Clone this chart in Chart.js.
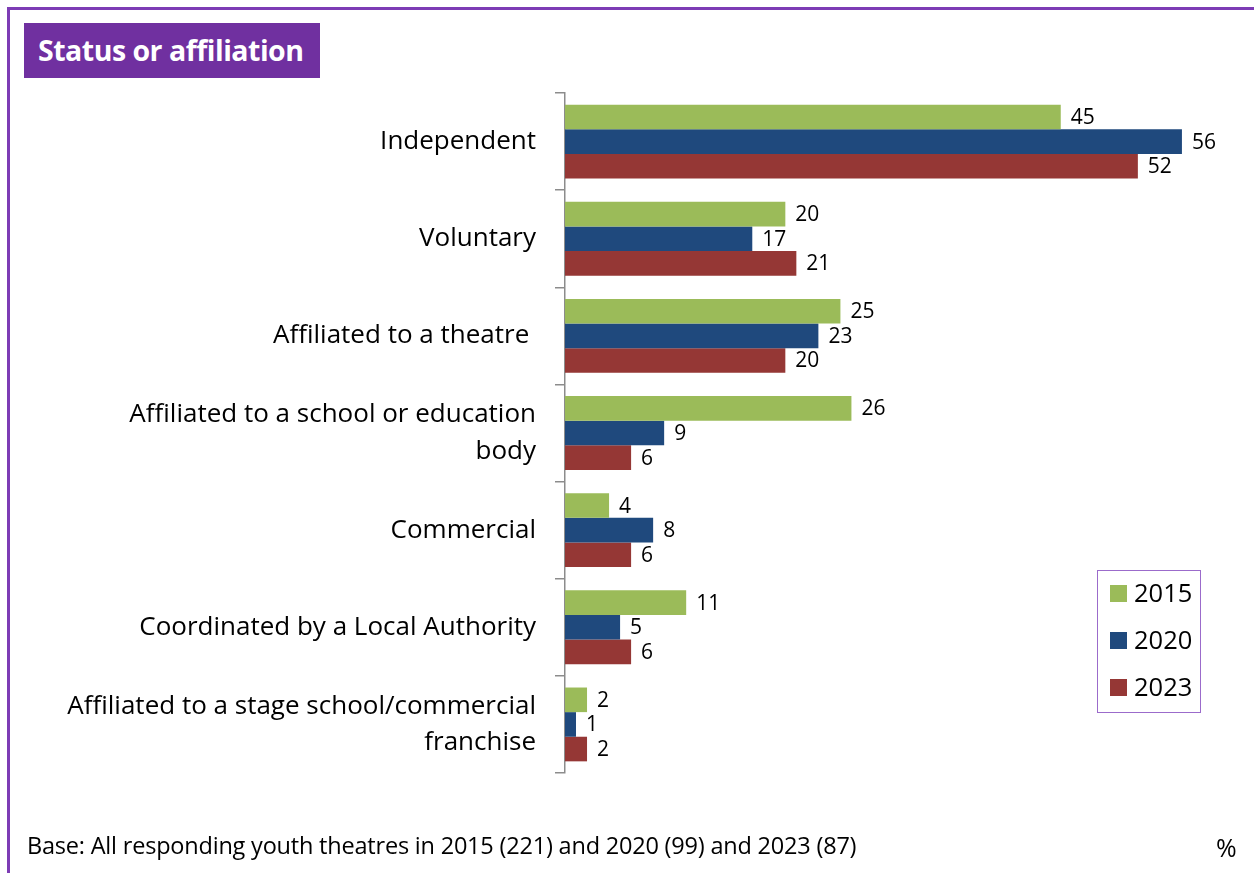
<!DOCTYPE html>
<html>
<head>
<meta charset="utf-8">
<script src="https://cdn.jsdelivr.net/npm/chart.js@4"></script>
<style>
  html, body { margin: 0; padding: 0; background: #fff; }
  #wrap { position: relative; width: 1254px; height: 873px; overflow: hidden; }
  #frame { position: absolute; left: 7px; top: 7px; width: 1260px; height: 880px;
           border-left: 3px solid #7D3CB5; border-top: 3px solid #7D3CB5; box-sizing: border-box; }
  #title { position: absolute; left: 24px; top: 23px; width: 296px; height: 55px; background: #7030A0;
           color: #fff; font: bold 28.5px "Open Sans", sans-serif; line-height: 55px; padding-left: 14px;
           box-sizing: border-box; letter-spacing: -0.5px; }
  #legend { position: absolute; left: 1097px; top: 570px; width: 104px; height: 143px;
            border: 1.5px solid #9B6BCB; box-sizing: border-box; font: 25.5px "Open Sans", sans-serif; }
  .item { position: absolute; left: 12px; height: 30px; line-height: 30px; }
  .sw { display: inline-block; width: 17px; height: 17px; margin-right: 7px; vertical-align: 0px; }
  #base { position: absolute; left: 27px; top: 829px; font: 23.5px "Open Sans", sans-serif; color: #000; letter-spacing: -0.2px; }
  #pct { position: absolute; left: 1216px; top: 830px; font: 25px "Open Sans", sans-serif; color: #000; }
  canvas { position: absolute; left: 0; top: 0; }
</style>
</head>
<body>
<div id="wrap">
  <div id="frame"></div>
  <canvas id="statusChart" width="1254" height="873"></canvas>
  <div id="title">Status or affiliation</div>
  <div id="legend"></div>
  <div id="base">Base: All responding youth theatres in 2015 (221) and 2020 (99) and 2023 (87)</div>
  <div id="pct">%</div>
</div>
<script>
var categories = [
  'Independent',
  'Voluntary',
  'Affiliated to a theatre ',
  ['Affiliated to a school or education', 'body'],
  'Commercial',
  'Coordinated by a Local Authority',
  ['Affiliated to a stage school/commercial', 'franchise']
];
var years = ['2015', '2020', '2023'];
var values2015 = [45, 20, 25, 26, 4, 11, 2];
var values2020 = [56, 17, 23, 9, 8, 5, 1];
var values2023 = [52, 21, 20, 6, 6, 6, 2];
var colours = ['#9BBB59', '#1F497D', '#953735'];

// legend box
var legend = document.getElementById('legend');
years.forEach(function(y, i) {
  var d = document.createElement('div');
  d.className = 'item';
  d.style.top = (6 + i * 47) + 'px';
  d.innerHTML = '<span class="sw" style="background:' + colours[i] + '"></span>' + y;
  legend.appendChild(d);
});

// value labels to the right of each bar
var valueLabels = {
  id: 'valueLabels',
  afterDatasetsDraw: function(chart) {
    var ctx = chart.ctx;
    ctx.save();
    ctx.font = '21px "Open Sans", sans-serif';
    ctx.fillStyle = '#000';
    ctx.textBaseline = 'middle';
    chart.data.datasets.forEach(function(ds, i) {
      chart.getDatasetMeta(i).data.forEach(function(bar, j) {
        ctx.fillText(ds.data[j], bar.x + 10, bar.y + 1);
      });
    });
    ctx.restore();
  }
};

var ctx = document.getElementById('statusChart').getContext('2d');
new Chart(ctx, {
  type: 'bar',
  data: {
    labels: categories,
    datasets: [
      { label: years[0], data: values2015, backgroundColor: colours[0] },
      { label: years[1], data: values2020, backgroundColor: colours[1] },
      { label: years[2], data: values2023, backgroundColor: colours[2] }
    ]
  },
  options: {
    indexAxis: 'y',
    responsive: false,
    animation: false,
    layout: { padding: { left: 25, top: 93, right: 28, bottom: 100 } },
    datasets: { bar: { categoryPercentage: 0.76, barPercentage: 1 } },
    plugins: { legend: { display: false }, tooltip: { enabled: false } },
    scales: {
      x: { display: false, min: 0, max: 60 },
      y: {
        afterFit: function(s) { s.width = 540; },
        border: { color: '#8C8C8C', width: 1.5 },
        grid: { offset: true, drawOnChartArea: false, drawTicks: true, tickLength: 10, color: '#8C8C8C', lineWidth: 1.5 },
        ticks: { color: '#000', padding: 19, font: { family: '"Open Sans", sans-serif', size: 26, lineHeight: 1.4 } }
      }
    }
  },
  plugins: [valueLabels]
});
</script>
</body>
</html>
